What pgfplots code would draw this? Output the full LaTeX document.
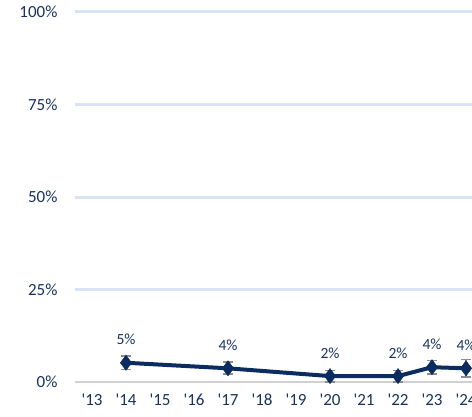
\documentclass[border=0pt]{standalone}
\usepackage{fontspec}
\setmainfont{Carlito}[Ligatures=TeXOff]
\usepackage{pgfplots}
\pgfplotsset{compat=1.18}
\definecolor{navy}{RGB}{10,44,94}
\definecolor{labelblue}{RGB}{25,50,95}
\definecolor{gridblue}{RGB}{217,227,244}
\definecolor{basegray}{RGB}{208,208,208}
\definecolor{errgray}{RGB}{140,140,140}
\begin{document}
\begin{tikzpicture}[x=1bp,y=1bp]
\begin{axis}[
  at={(75bp,34bp)}, anchor=south west,
  scale only axis, width=411.4bp, height=370bp,
  xmin=12.5, xmax=24.6, ymin=0, ymax=100,
  clip=false,
  /pgf/number format/assume math mode=true,
  axis line style={draw=none},
  major tick length=0pt,
  ytick={25,50,75,100},
  yticklabels={25\%,50\%,75\%,100\%},
  extra y ticks={0},
  extra y tick labels={0\%},
  extra y tick style={grid style={color=basegray, line width=2bp}},
  ymajorgrids,
  grid style={color=gridblue, line width=3bp},
  xtick={13,...,24},
  xticklabels={'13,'14,'15,'16,'17,'18,'19,'20,'21,'22,'23,'24},
  yticklabel style={anchor=east, xshift=-14bp, font=\fontsize{17bp}{19bp}\selectfont, text=labelblue},
  xticklabel style={anchor=center, yshift=-18bp, font=\fontsize{17bp}{19bp}\selectfont, text=labelblue},
  nodes near coords={\pgfmathprintnumber[fixed, precision=0, assume math mode=true]{\pgfplotspointmeta}\%},
  every node near coord/.style={anchor=center, yshift=23bp, font=\fontsize{15.5bp}{17bp}\selectfont, text=labelblue},
]
\addplot[color=navy, line width=4bp, mark=diamond*, mark size=7.5bp,
  mark options={solid, fill=navy, draw=navy, line width=0.5bp},
  error bars/.cd, y dir=both, y explicit,
  error bar style={color=errgray, line width=1.2bp},
  error mark options={rotate=90, mark size=5bp, color=errgray, line width=1.8bp}]
  coordinates {
  (14,5.2) +- (0,1.8)
  (17,3.7) +- (0,1.6)
  (20,1.6) +- (0,1.5)
  (22,1.6) +- (0,1.5)
  (23,4.0) +- (0,1.8)
  (24,3.7) +- (0,2.4)
};
\end{axis}
\pgfresetboundingbox
\useasboundingbox (0,0) rectangle (472,416);
\end{tikzpicture}
\end{document}
